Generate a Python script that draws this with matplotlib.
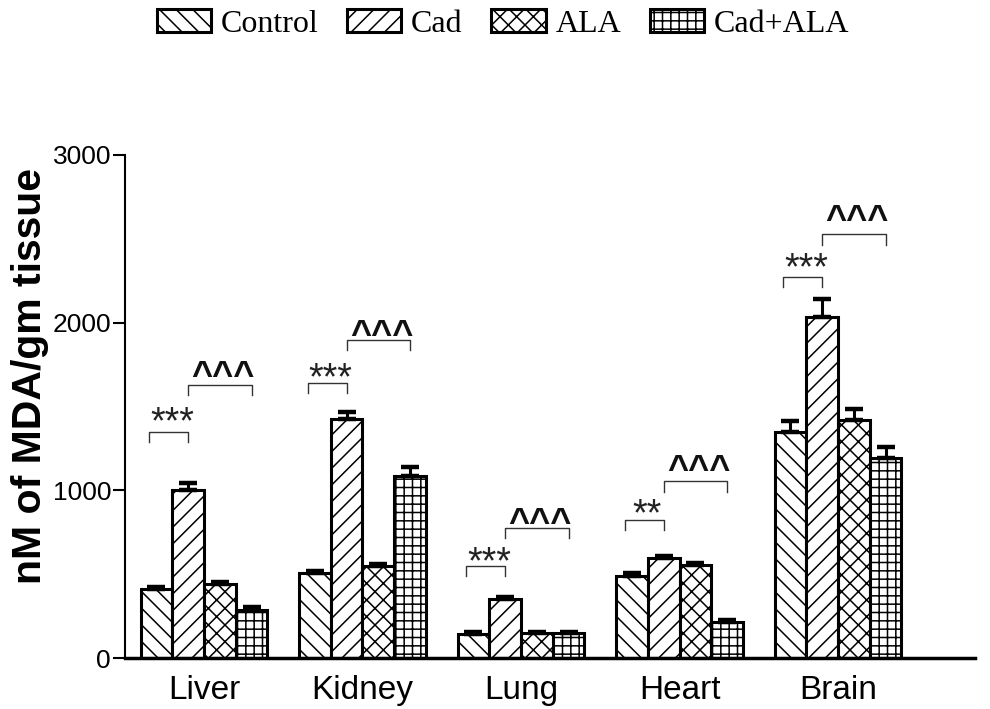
import numpy as np
import matplotlib
matplotlib.use('Agg')
import matplotlib.pyplot as plt

# Data
tissues = ['Liver', 'Kidney', 'Lung', 'Heart', 'Brain']
groups = ['Control', 'Cad', 'ALA', 'Cad+ALA']
control = [410, 505, 143, 489, 1348]
cad = [1000, 1425, 350, 596, 2033]
ala = [440, 549, 147, 555, 1419]
cad_ala = [285, 1085, 147, 213, 1193]
control_err = [15, 15, 10, 18, 65]
cad_err = [43, 40, 15, 12, 110]
ala_err = [12, 12, 10, 12, 65]
cad_ala_err = [18, 55, 10, 15, 65]

# significance marks: first bracket Control vs Cad, second Cad vs Cad+ALA
star_labels = ['***', '***', '***', '**', '***']
star_y = [1467, 1729, 632, 918, 2385]
star_bracket_y = [1348, 1640, 549, 823, 2272]
caret_label = '^^^'
caret_y = [1729, 1974, 853, 1169, 2660]
caret_bracket_y = [1628, 1896, 775, 1055, 2528]

plt.rcParams['hatch.color'] = 'black'
plt.rcParams['hatch.linewidth'] = 1.1
plt.rcParams['font.family'] = ['Liberation Sans', 'DejaVu Sans']

fig = plt.figure(figsize=(9.9, 7.09), dpi=100)
ax = fig.add_axes([125 / 990, 1 - 658 / 709, 850 / 990, 503 / 709])

x = np.arange(len(tissues))
width = 0.2
offsets = [-0.3, -0.1, 0.1, 0.3]
hatches = ['\\\\', '//', 'xx', '++']
series = [control, cad, ala, cad_ala]
errors = [control_err, cad_err, ala_err, cad_ala_err]

handles = []
for vals, errs, off, hatch, name in zip(series, errors, offsets, hatches, groups):
    b = ax.bar(x + off, vals, width, color='white', edgecolor='black',
               linewidth=2.2, hatch=hatch, label=name, zorder=2)
    ax.errorbar(x + off, vals, yerr=[np.zeros(len(errs)), errs], fmt='none',
                ecolor='black', elinewidth=2.2, capsize=6.5, capthick=3.2,
                zorder=3)
    handles.append(b)

# Significance brackets and labels
leg = 62
for i in range(len(tissues)):
    x0 = x[i] + offsets[0] - 0.045
    x1 = x[i] + offsets[1]
    y = star_bracket_y[i]
    ax.plot([x0, x0, x1, x1], [y - leg, y, y, y - leg], color='#333333',
            lw=1.0, zorder=4)
    ax.text((x0 + x1) / 2 + 0.02, star_y[i] - 128, star_labels[i],
            ha='center', va='baseline', fontsize=27, color='#222222')
    x2 = x[i] + offsets[1]
    x3 = x[i] + offsets[3]
    y = caret_bracket_y[i]
    ax.plot([x2, x2, x3, x3], [y - leg, y, y, y - leg], color='#333333',
            lw=1.0, zorder=4)
    ax.text((x2 + x3) / 2 + 0.02, caret_y[i] - 108, caret_label,
            ha='center', va='baseline', fontsize=26, fontweight='bold',
            color='#111111')

ax.set_xlim(-0.498, 4.864)
ax.set_ylim(0, 3000)
ax.set_yticks([0, 1000, 2000, 3000])
ax.set_xticks(x)
ax.set_xticklabels(tissues, fontsize=24)
ax.tick_params(axis='x', length=0, pad=12)
ax.tick_params(axis='y', length=9, width=1.5, pad=1, labelsize=19)
for side in ['top', 'right']:
    ax.spines[side].set_visible(False)
ax.spines['left'].set_linewidth(1.5)
ax.spines['bottom'].set_linewidth(2.5)

fig.text(30 / 990, 1 - 376 / 709, 'nM of MDA/gm tissue', rotation=90,
         ha='center', va='center', fontsize=29.5, fontweight='bold')

fig.legend(handles=handles, labels=groups, loc='center',
           bbox_to_anchor=(503 / 990, 1 - 24 / 709), ncol=4, frameon=False,
           handlelength=1.7, handleheight=0.72, handletextpad=0.3,
           columnspacing=0.9,
           prop={'family': ['Liberation Serif', 'DejaVu Serif'], 'size': 23})

plt.savefig('out.png', dpi=100)
